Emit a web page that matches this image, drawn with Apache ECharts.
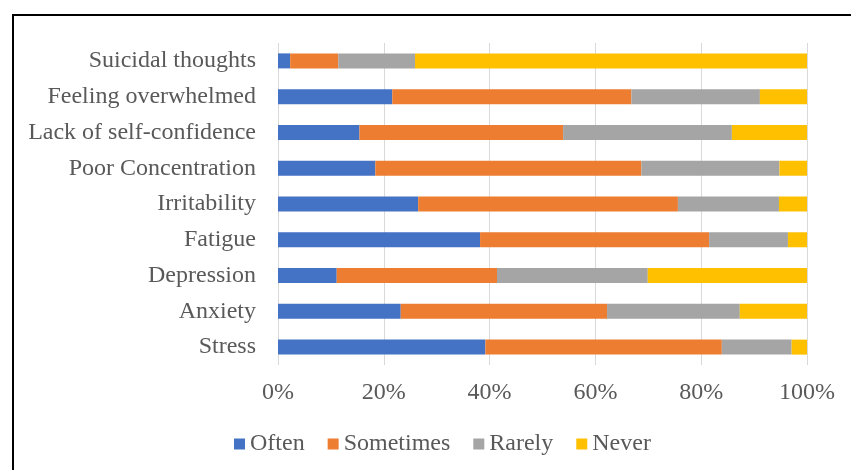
<!DOCTYPE html>
<html>
<head>
<meta charset="utf-8">
<script src="https://cdn.jsdelivr.net/npm/echarts@6/dist/echarts.min.js"></script>
<style>
  html, body { margin: 0; padding: 0; background: #fff; }
  #wrap { position: relative; width: 851px; height: 470px; overflow: hidden; }
  #chart { width: 851px; height: 470px; }
  .frame {
    position: absolute; left: 12px; top: 14px;
    width: 900px; height: 500px;
    border: 2px solid #000;
    pointer-events: none;
  }
</style>
</head>
<body>
<div id="wrap">
  <div id="chart"></div>
  <div class="frame"></div>
</div>
<script>
// bottom to top, as Excel draws the category axis
var categories = ['Stress', 'Anxiety', 'Depression', 'Fatigue', 'Irritability',
  'Poor Concentration', 'Lack of self-confidence', 'Feeling overwhelmed', 'Suicidal thoughts'];
var often     = [39.2, 23.2, 11.1, 38.2, 26.5, 18.4, 15.4, 21.6, 2.3];
var sometimes = [44.7, 39.0, 30.3, 43.3, 49.1, 50.3, 38.5, 45.2, 9.1];
var rarely    = [13.2, 25.1, 28.5, 14.9, 19.1, 26.1, 31.9, 24.3, 14.5];
var never     = [2.9, 12.7, 30.1, 3.6, 5.3, 5.2, 14.2, 8.9, 74.1];
var seriesNames = ['Often', 'Sometimes', 'Rarely', 'Never'];

var serif = "'Liberation Serif', 'Times New Roman', serif";
var textColor = '#595959';

var myChart = echarts.init(document.getElementById('chart'));
var values = [often, sometimes, rarely, never];

var option = {
  animation: false,
  color: ['#4472C4', '#ED7D31', '#A5A5A5', '#FFC000'],
  grid: { left: 278, right: 44, top: 43, bottom: 105 },
  legend: {
    left: 234,
    top: 432,
    padding: 0,
    itemWidth: 11,
    itemHeight: 11,
    itemGap: 23,
    icon: 'rect',
    textStyle: { fontFamily: serif, fontSize: 24, color: textColor },
    data: seriesNames
  },
  xAxis: {
    type: 'value',
    min: 0,
    max: 100,
    interval: 20,
    axisLine: { show: false },
    axisTick: { show: false },
    axisLabel: {
      formatter: '{value}%',
      fontFamily: serif,
      fontSize: 24,
      color: textColor,
      margin: 16
    },
    splitLine: { lineStyle: { color: '#D9D9D9', width: 1 } }
  },
  yAxis: {
    type: 'category',
    data: categories,
    axisLine: { show: false },
    axisTick: { show: false },
    axisLabel: {
      fontFamily: serif,
      fontSize: 24,
      color: textColor,
      margin: 22
    }
  },
  series: seriesNames.map(function (name, i) {
    return {
      name: name,
      type: 'bar',
      stack: 'total',
      barWidth: 15,
      data: values[i]
    };
  })
};
myChart && myChart.setOption(option);
</script>
</body>
</html>
